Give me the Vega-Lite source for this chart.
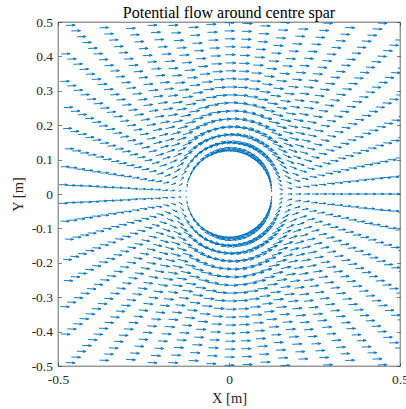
{
"$schema":"https://vega.github.io/schema/vega-lite/v6.json",
"width":342,"height":344,
"autosize":"none",
"padding":{"left":58,"top":22,"right":6,"bottom":43},
"background":"white",
"config":{"view":{"stroke":"#262626","strokeWidth":0.7},"font":"Liberation Serif"},
"title":{"text":"Potential flow around centre spar","font":"Liberation Serif","fontSize":16,"fontWeight":"normal","color":"#000000","anchor":"middle","baseline":"alphabetic","offset":4.5,"dy":23},
"resolve":{"axis":{"x":"independent","y":"independent"}},
"layer":[
{"data":{"values":[
{"x":0.125,"y":0,"a":0,"s":0},{"x":0.148,"y":0,"a":0,"s":0.29},{"x":0.172,"y":0,"a":0,"s":0.47},{"x":0.195,"y":0,"a":0,"s":0.59},{"x":0.218,"y":0,"a":0,"s":0.67},{"x":0.242,"y":0,"a":0,"s":0.73},{"x":0.265,"y":0,"a":0,"s":0.78},{"x":0.288,"y":0,"a":0,"s":0.81},{"x":0.311,"y":0,"a":0,"s":0.84},{"x":0.335,"y":0,"a":0,"s":0.86},{"x":0.358,"y":0,"a":0,"s":0.88},{"x":0.381,"y":0,"a":0,"s":0.89},{"x":0.405,"y":0,"a":0,"s":0.9},{"x":0.428,"y":0,"a":0,"s":0.91},{"x":0.451,"y":0,"a":0,"s":0.92},{"x":0.475,"y":0,"a":0,"s":0.93},{"x":0.498,"y":0,"a":0,"s":0.94},
{"x":0.124,"y":0.013,"a":-84,"s":0.21},{"x":0.148,"y":0.016,"a":-26,"s":0.34},{"x":0.171,"y":0.018,"a":-13,"s":0.49},{"x":0.194,"y":0.021,"a":-8,"s":0.6},{"x":0.217,"y":0.023,"a":-6,"s":0.68},{"x":0.24,"y":0.026,"a":-4,"s":0.74},{"x":0.263,"y":0.028,"a":-3,"s":0.78},{"x":0.287,"y":0.031,"a":-3,"s":0.82},{"x":0.31,"y":0.033,"a":-2,"s":0.84},{"x":0.333,"y":0.036,"a":-2,"s":0.86},{"x":0.356,"y":0.038,"a":-2,"s":0.88},{"x":0.379,"y":0.041,"a":-1,"s":0.9},{"x":0.402,"y":0.043,"a":-1,"s":0.91},{"x":0.426,"y":0.046,"a":-1,"s":0.92},{"x":0.449,"y":0.048,"a":-1,"s":0.93},{"x":0.472,"y":0.05,"a":-1,"s":0.93},{"x":0.495,"y":0.053,"a":-1,"s":0.94},
{"x":0.124,"y":-0.013,"a":84,"s":0.21},{"x":0.148,"y":-0.016,"a":26,"s":0.34},{"x":0.171,"y":-0.018,"a":13,"s":0.49},{"x":0.194,"y":-0.021,"a":8,"s":0.6},{"x":0.217,"y":-0.023,"a":6,"s":0.68},{"x":0.24,"y":-0.026,"a":4,"s":0.74},{"x":0.263,"y":-0.028,"a":3,"s":0.78},{"x":0.287,"y":-0.031,"a":3,"s":0.82},{"x":0.31,"y":-0.033,"a":2,"s":0.84},{"x":0.333,"y":-0.036,"a":2,"s":0.86},{"x":0.356,"y":-0.038,"a":2,"s":0.88},{"x":0.379,"y":-0.041,"a":1,"s":0.9},{"x":0.402,"y":-0.043,"a":1,"s":0.91},{"x":0.426,"y":-0.046,"a":1,"s":0.92},{"x":0.449,"y":-0.048,"a":1,"s":0.93},{"x":0.472,"y":-0.05,"a":1,"s":0.93},{"x":0.495,"y":-0.053,"a":1,"s":0.94},
{"x":0.122,"y":0.026,"a":-78,"s":0.42},{"x":0.145,"y":0.031,"a":-40,"s":0.46},{"x":0.168,"y":0.036,"a":-23,"s":0.56},{"x":0.191,"y":0.041,"a":-15,"s":0.65},{"x":0.213,"y":0.046,"a":-11,"s":0.71},{"x":0.236,"y":0.051,"a":-8,"s":0.76},{"x":0.259,"y":0.056,"a":-7,"s":0.8},{"x":0.282,"y":0.061,"a":-5,"s":0.83},{"x":0.304,"y":0.066,"a":-5,"s":0.86},{"x":0.327,"y":0.071,"a":-4,"s":0.88},{"x":0.35,"y":0.076,"a":-3,"s":0.89},{"x":0.373,"y":0.081,"a":-3,"s":0.9},{"x":0.396,"y":0.086,"a":-2,"s":0.91},{"x":0.418,"y":0.09,"a":-2,"s":0.92},{"x":0.441,"y":0.095,"a":-2,"s":0.93},{"x":0.464,"y":0.1,"a":-2,"s":0.94},{"x":0.487,"y":0.105,"a":-2,"s":0.94},
{"x":0.122,"y":-0.026,"a":78,"s":0.42},{"x":0.145,"y":-0.031,"a":40,"s":0.46},{"x":0.168,"y":-0.036,"a":23,"s":0.56},{"x":0.191,"y":-0.041,"a":15,"s":0.65},{"x":0.213,"y":-0.046,"a":11,"s":0.71},{"x":0.236,"y":-0.051,"a":8,"s":0.76},{"x":0.259,"y":-0.056,"a":7,"s":0.8},{"x":0.282,"y":-0.061,"a":5,"s":0.83},{"x":0.304,"y":-0.066,"a":5,"s":0.86},{"x":0.327,"y":-0.071,"a":4,"s":0.88},{"x":0.35,"y":-0.076,"a":3,"s":0.89},{"x":0.373,"y":-0.081,"a":3,"s":0.9},{"x":0.396,"y":-0.086,"a":2,"s":0.91},{"x":0.418,"y":-0.09,"a":2,"s":0.92},{"x":0.441,"y":-0.095,"a":2,"s":0.93},{"x":0.464,"y":-0.1,"a":2,"s":0.94},{"x":0.487,"y":-0.105,"a":2,"s":0.94},
{"x":0.119,"y":0.039,"a":-72,"s":0.63},{"x":0.141,"y":0.047,"a":-45,"s":0.6},{"x":0.163,"y":0.054,"a":-29,"s":0.66},{"x":0.185,"y":0.061,"a":-20,"s":0.71},{"x":0.207,"y":0.069,"a":-15,"s":0.76},{"x":0.229,"y":0.076,"a":-12,"s":0.8},{"x":0.251,"y":0.083,"a":-9,"s":0.83},{"x":0.274,"y":0.091,"a":-8,"s":0.86},{"x":0.296,"y":0.098,"a":-6,"s":0.88},{"x":0.318,"y":0.105,"a":-5,"s":0.89},{"x":0.34,"y":0.112,"a":-5,"s":0.91},{"x":0.362,"y":0.12,"a":-4,"s":0.92},{"x":0.384,"y":0.127,"a":-4,"s":0.93},{"x":0.406,"y":0.134,"a":-3,"s":0.93},{"x":0.428,"y":0.142,"a":-3,"s":0.94},{"x":0.451,"y":0.149,"a":-3,"s":0.95},{"x":0.473,"y":0.156,"a":-2,"s":0.95},{"x":0.495,"y":0.164,"a":-2,"s":0.96},
{"x":0.119,"y":-0.039,"a":72,"s":0.63},{"x":0.141,"y":-0.047,"a":45,"s":0.6},{"x":0.163,"y":-0.054,"a":29,"s":0.66},{"x":0.185,"y":-0.061,"a":20,"s":0.71},{"x":0.207,"y":-0.069,"a":15,"s":0.76},{"x":0.229,"y":-0.076,"a":12,"s":0.8},{"x":0.251,"y":-0.083,"a":9,"s":0.83},{"x":0.274,"y":-0.091,"a":8,"s":0.86},{"x":0.296,"y":-0.098,"a":6,"s":0.88},{"x":0.318,"y":-0.105,"a":5,"s":0.89},{"x":0.34,"y":-0.112,"a":5,"s":0.91},{"x":0.362,"y":-0.12,"a":4,"s":0.92},{"x":0.384,"y":-0.127,"a":4,"s":0.93},{"x":0.406,"y":-0.134,"a":3,"s":0.93},{"x":0.428,"y":-0.142,"a":3,"s":0.94},{"x":0.451,"y":-0.149,"a":3,"s":0.95},{"x":0.473,"y":-0.156,"a":2,"s":0.95},{"x":0.495,"y":-0.164,"a":2,"s":0.96},
{"x":0.114,"y":0.052,"a":-66,"s":0.83},{"x":0.135,"y":0.061,"a":-45,"s":0.75},{"x":0.156,"y":0.071,"a":-32,"s":0.76},{"x":0.178,"y":0.081,"a":-23,"s":0.79},{"x":0.199,"y":0.09,"a":-18,"s":0.82},{"x":0.22,"y":0.1,"a":-14,"s":0.85},{"x":0.241,"y":0.109,"a":-11,"s":0.87},{"x":0.262,"y":0.119,"a":-9,"s":0.89},{"x":0.284,"y":0.129,"a":-8,"s":0.9},{"x":0.305,"y":0.138,"a":-7,"s":0.91},{"x":0.326,"y":0.148,"a":-6,"s":0.92},{"x":0.347,"y":0.158,"a":-5,"s":0.93},{"x":0.368,"y":0.167,"a":-4,"s":0.94},{"x":0.39,"y":0.177,"a":-4,"s":0.95},{"x":0.411,"y":0.186,"a":-3,"s":0.95},{"x":0.432,"y":0.196,"a":-3,"s":0.96},{"x":0.453,"y":0.206,"a":-3,"s":0.96},{"x":0.475,"y":0.215,"a":-3,"s":0.96},{"x":0.496,"y":0.225,"a":-2,"s":0.97},
{"x":0.114,"y":-0.052,"a":66,"s":0.83},{"x":0.135,"y":-0.061,"a":45,"s":0.75},{"x":0.156,"y":-0.071,"a":32,"s":0.76},{"x":0.178,"y":-0.081,"a":23,"s":0.79},{"x":0.199,"y":-0.09,"a":18,"s":0.82},{"x":0.22,"y":-0.1,"a":14,"s":0.85},{"x":0.241,"y":-0.109,"a":11,"s":0.87},{"x":0.262,"y":-0.119,"a":9,"s":0.89},{"x":0.284,"y":-0.129,"a":8,"s":0.9},{"x":0.305,"y":-0.138,"a":7,"s":0.91},{"x":0.326,"y":-0.148,"a":6,"s":0.92},{"x":0.347,"y":-0.158,"a":5,"s":0.93},{"x":0.368,"y":-0.167,"a":4,"s":0.94},{"x":0.39,"y":-0.177,"a":4,"s":0.95},{"x":0.411,"y":-0.186,"a":3,"s":0.95},{"x":0.432,"y":-0.196,"a":3,"s":0.96},{"x":0.453,"y":-0.206,"a":3,"s":0.96},{"x":0.475,"y":-0.215,"a":3,"s":0.96},{"x":0.496,"y":-0.225,"a":2,"s":0.97},
{"x":0.108,"y":0.063,"a":-60,"s":1.02},{"x":0.128,"y":0.075,"a":-44,"s":0.9},{"x":0.148,"y":0.087,"a":-32,"s":0.88},{"x":0.168,"y":0.099,"a":-24,"s":0.88},{"x":0.188,"y":0.111,"a":-19,"s":0.89},{"x":0.208,"y":0.123,"a":-15,"s":0.9},{"x":0.228,"y":0.134,"a":-12,"s":0.91},{"x":0.248,"y":0.146,"a":-10,"s":0.92},{"x":0.268,"y":0.158,"a":-9,"s":0.93},{"x":0.288,"y":0.17,"a":-8,"s":0.94},{"x":0.309,"y":0.182,"a":-6,"s":0.95},{"x":0.329,"y":0.194,"a":-6,"s":0.95},{"x":0.349,"y":0.205,"a":-5,"s":0.96},{"x":0.369,"y":0.217,"a":-4,"s":0.96},{"x":0.389,"y":0.229,"a":-4,"s":0.97},{"x":0.409,"y":0.241,"a":-4,"s":0.97},{"x":0.429,"y":0.253,"a":-3,"s":0.97},{"x":0.449,"y":0.265,"a":-3,"s":0.97},{"x":0.469,"y":0.276,"a":-3,"s":0.98},{"x":0.489,"y":0.288,"a":-2,"s":0.98},
{"x":0.108,"y":-0.063,"a":60,"s":1.02},{"x":0.128,"y":-0.075,"a":44,"s":0.9},{"x":0.148,"y":-0.087,"a":32,"s":0.88},{"x":0.168,"y":-0.099,"a":24,"s":0.88},{"x":0.188,"y":-0.111,"a":19,"s":0.89},{"x":0.208,"y":-0.123,"a":15,"s":0.9},{"x":0.228,"y":-0.134,"a":12,"s":0.91},{"x":0.248,"y":-0.146,"a":10,"s":0.92},{"x":0.268,"y":-0.158,"a":9,"s":0.93},{"x":0.288,"y":-0.17,"a":8,"s":0.94},{"x":0.309,"y":-0.182,"a":6,"s":0.95},{"x":0.329,"y":-0.194,"a":6,"s":0.95},{"x":0.349,"y":-0.205,"a":5,"s":0.96},{"x":0.369,"y":-0.217,"a":4,"s":0.96},{"x":0.389,"y":-0.229,"a":4,"s":0.97},{"x":0.409,"y":-0.241,"a":4,"s":0.97},{"x":0.429,"y":-0.253,"a":3,"s":0.97},{"x":0.449,"y":-0.265,"a":3,"s":0.97},{"x":0.469,"y":-0.276,"a":3,"s":0.98},{"x":0.489,"y":-0.288,"a":2,"s":0.98},
{"x":0.1,"y":0.075,"a":-53,"s":1.19},{"x":0.119,"y":0.088,"a":-41,"s":1.05},{"x":0.138,"y":0.102,"a":-31,"s":0.99},{"x":0.157,"y":0.116,"a":-24,"s":0.97},{"x":0.175,"y":0.13,"a":-19,"s":0.96},{"x":0.194,"y":0.144,"a":-16,"s":0.96},{"x":0.213,"y":0.158,"a":-13,"s":0.96},{"x":0.231,"y":0.172,"a":-11,"s":0.96},{"x":0.25,"y":0.186,"a":-9,"s":0.97},{"x":0.269,"y":0.2,"a":-8,"s":0.97},{"x":0.287,"y":0.214,"a":-7,"s":0.97},{"x":0.306,"y":0.227,"a":-6,"s":0.97},{"x":0.325,"y":0.241,"a":-5,"s":0.98},{"x":0.344,"y":0.255,"a":-5,"s":0.98},{"x":0.362,"y":0.269,"a":-4,"s":0.98},{"x":0.381,"y":0.283,"a":-4,"s":0.98},{"x":0.4,"y":0.297,"a":-4,"s":0.98},{"x":0.418,"y":0.311,"a":-3,"s":0.99},{"x":0.437,"y":0.325,"a":-3,"s":0.99},{"x":0.456,"y":0.339,"a":-3,"s":0.99},{"x":0.474,"y":0.353,"a":-2,"s":0.99},{"x":0.493,"y":0.366,"a":-2,"s":0.99},
{"x":0.1,"y":-0.075,"a":53,"s":1.19},{"x":0.119,"y":-0.088,"a":41,"s":1.05},{"x":0.138,"y":-0.102,"a":31,"s":0.99},{"x":0.157,"y":-0.116,"a":24,"s":0.97},{"x":0.175,"y":-0.13,"a":19,"s":0.96},{"x":0.194,"y":-0.144,"a":16,"s":0.96},{"x":0.213,"y":-0.158,"a":13,"s":0.96},{"x":0.231,"y":-0.172,"a":11,"s":0.96},{"x":0.25,"y":-0.186,"a":9,"s":0.97},{"x":0.269,"y":-0.2,"a":8,"s":0.97},{"x":0.287,"y":-0.214,"a":7,"s":0.97},{"x":0.306,"y":-0.227,"a":6,"s":0.97},{"x":0.325,"y":-0.241,"a":5,"s":0.98},{"x":0.344,"y":-0.255,"a":5,"s":0.98},{"x":0.362,"y":-0.269,"a":4,"s":0.98},{"x":0.381,"y":-0.283,"a":4,"s":0.98},{"x":0.4,"y":-0.297,"a":4,"s":0.98},{"x":0.418,"y":-0.311,"a":3,"s":0.99},{"x":0.437,"y":-0.325,"a":3,"s":0.99},{"x":0.456,"y":-0.339,"a":3,"s":0.99},{"x":0.474,"y":-0.353,"a":2,"s":0.99},{"x":0.493,"y":-0.366,"a":2,"s":0.99},
{"x":0.092,"y":0.085,"a":-47,"s":1.36},{"x":0.109,"y":0.101,"a":-37,"s":1.18},{"x":0.126,"y":0.116,"a":-29,"s":1.09},{"x":0.143,"y":0.132,"a":-23,"s":1.05},{"x":0.16,"y":0.148,"a":-19,"s":1.03},{"x":0.178,"y":0.164,"a":-15,"s":1.01},{"x":0.195,"y":0.18,"a":-13,"s":1.01},{"x":0.212,"y":0.195,"a":-11,"s":1},{"x":0.229,"y":0.211,"a":-9,"s":1},{"x":0.246,"y":0.227,"a":-8,"s":1},{"x":0.263,"y":0.243,"a":-7,"s":1},{"x":0.28,"y":0.259,"a":-6,"s":1},{"x":0.297,"y":0.274,"a":-5,"s":1},{"x":0.314,"y":0.29,"a":-5,"s":1},{"x":0.332,"y":0.306,"a":-4,"s":1},{"x":0.349,"y":0.322,"a":-4,"s":1},{"x":0.366,"y":0.338,"a":-4,"s":1},{"x":0.383,"y":0.354,"a":-3,"s":1},{"x":0.4,"y":0.369,"a":-3,"s":1},{"x":0.417,"y":0.385,"a":-3,"s":1},{"x":0.434,"y":0.401,"a":-3,"s":1},{"x":0.451,"y":0.417,"a":-2,"s":1},{"x":0.469,"y":0.433,"a":-2,"s":1},{"x":0.486,"y":0.448,"a":-2,"s":1},
{"x":0.092,"y":-0.085,"a":47,"s":1.36},{"x":0.109,"y":-0.101,"a":37,"s":1.18},{"x":0.126,"y":-0.116,"a":29,"s":1.09},{"x":0.143,"y":-0.132,"a":23,"s":1.05},{"x":0.16,"y":-0.148,"a":19,"s":1.03},{"x":0.178,"y":-0.164,"a":15,"s":1.01},{"x":0.195,"y":-0.18,"a":13,"s":1.01},{"x":0.212,"y":-0.195,"a":11,"s":1},{"x":0.229,"y":-0.211,"a":9,"s":1},{"x":0.246,"y":-0.227,"a":8,"s":1},{"x":0.263,"y":-0.243,"a":7,"s":1},{"x":0.28,"y":-0.259,"a":6,"s":1},{"x":0.297,"y":-0.274,"a":5,"s":1},{"x":0.314,"y":-0.29,"a":5,"s":1},{"x":0.332,"y":-0.306,"a":4,"s":1},{"x":0.349,"y":-0.322,"a":4,"s":1},{"x":0.366,"y":-0.338,"a":4,"s":1},{"x":0.383,"y":-0.354,"a":3,"s":1},{"x":0.4,"y":-0.369,"a":3,"s":1},{"x":0.417,"y":-0.385,"a":3,"s":1},{"x":0.434,"y":-0.401,"a":3,"s":1},{"x":0.451,"y":-0.417,"a":2,"s":1},{"x":0.469,"y":-0.433,"a":2,"s":1},{"x":0.486,"y":-0.448,"a":2,"s":1},
{"x":0.082,"y":0.094,"a":-41,"s":1.51},{"x":0.098,"y":0.112,"a":-33,"s":1.3},{"x":0.113,"y":0.129,"a":-26,"s":1.19},{"x":0.128,"y":0.147,"a":-21,"s":1.13},{"x":0.144,"y":0.164,"a":-17,"s":1.09},{"x":0.159,"y":0.182,"a":-14,"s":1.07},{"x":0.174,"y":0.199,"a":-12,"s":1.05},{"x":0.19,"y":0.217,"a":-10,"s":1.04},{"x":0.205,"y":0.234,"a":-9,"s":1.03},{"x":0.22,"y":0.252,"a":-8,"s":1.03},{"x":0.236,"y":0.269,"a":-7,"s":1.02},{"x":0.251,"y":0.287,"a":-6,"s":1.02},{"x":0.266,"y":0.305,"a":-5,"s":1.02},{"x":0.282,"y":0.322,"a":-5,"s":1.02},{"x":0.297,"y":0.34,"a":-4,"s":1.01},{"x":0.313,"y":0.357,"a":-4,"s":1.01},{"x":0.328,"y":0.375,"a":-4,"s":1.01},{"x":0.343,"y":0.392,"a":-3,"s":1.01},{"x":0.359,"y":0.41,"a":-3,"s":1.01},{"x":0.374,"y":0.427,"a":-3,"s":1.01},{"x":0.389,"y":0.445,"a":-3,"s":1.01},{"x":0.405,"y":0.462,"a":-2,"s":1.01},{"x":0.42,"y":0.48,"a":-2,"s":1.01},{"x":0.435,"y":0.497,"a":-2,"s":1},
{"x":0.082,"y":-0.094,"a":41,"s":1.51},{"x":0.098,"y":-0.112,"a":33,"s":1.3},{"x":0.113,"y":-0.129,"a":26,"s":1.19},{"x":0.128,"y":-0.147,"a":21,"s":1.13},{"x":0.144,"y":-0.164,"a":17,"s":1.09},{"x":0.159,"y":-0.182,"a":14,"s":1.07},{"x":0.174,"y":-0.199,"a":12,"s":1.05},{"x":0.19,"y":-0.217,"a":10,"s":1.04},{"x":0.205,"y":-0.234,"a":9,"s":1.03},{"x":0.22,"y":-0.252,"a":8,"s":1.03},{"x":0.236,"y":-0.269,"a":7,"s":1.02},{"x":0.251,"y":-0.287,"a":6,"s":1.02},{"x":0.266,"y":-0.305,"a":5,"s":1.02},{"x":0.282,"y":-0.322,"a":5,"s":1.02},{"x":0.297,"y":-0.34,"a":4,"s":1.01},{"x":0.313,"y":-0.357,"a":4,"s":1.01},{"x":0.328,"y":-0.375,"a":4,"s":1.01},{"x":0.343,"y":-0.392,"a":3,"s":1.01},{"x":0.359,"y":-0.41,"a":3,"s":1.01},{"x":0.374,"y":-0.427,"a":3,"s":1.01},{"x":0.389,"y":-0.445,"a":3,"s":1.01},{"x":0.405,"y":-0.462,"a":2,"s":1.01},{"x":0.42,"y":-0.48,"a":2,"s":1.01},{"x":0.435,"y":-0.497,"a":2,"s":1},
{"x":0.072,"y":0.102,"a":-35,"s":1.64},{"x":0.085,"y":0.121,"a":-28,"s":1.41},{"x":0.099,"y":0.14,"a":-23,"s":1.28},{"x":0.112,"y":0.16,"a":-19,"s":1.2},{"x":0.125,"y":0.179,"a":-16,"s":1.15},{"x":0.139,"y":0.198,"a":-13,"s":1.12},{"x":0.152,"y":0.217,"a":-11,"s":1.1},{"x":0.166,"y":0.236,"a":-9,"s":1.08},{"x":0.179,"y":0.255,"a":-8,"s":1.07},{"x":0.192,"y":0.274,"a":-7,"s":1.06},{"x":0.206,"y":0.293,"a":-6,"s":1.05},{"x":0.219,"y":0.312,"a":-6,"s":1.04},{"x":0.233,"y":0.331,"a":-5,"s":1.04},{"x":0.246,"y":0.35,"a":-4,"s":1.03},{"x":0.259,"y":0.369,"a":-4,"s":1.03},{"x":0.273,"y":0.388,"a":-4,"s":1.03},{"x":0.286,"y":0.407,"a":-3,"s":1.02},{"x":0.3,"y":0.426,"a":-3,"s":1.02},{"x":0.313,"y":0.446,"a":-3,"s":1.02},{"x":0.326,"y":0.465,"a":-3,"s":1.02},{"x":0.34,"y":0.484,"a":-2,"s":1.02},
{"x":0.072,"y":-0.102,"a":35,"s":1.64},{"x":0.085,"y":-0.121,"a":28,"s":1.41},{"x":0.099,"y":-0.14,"a":23,"s":1.28},{"x":0.112,"y":-0.16,"a":19,"s":1.2},{"x":0.125,"y":-0.179,"a":16,"s":1.15},{"x":0.139,"y":-0.198,"a":13,"s":1.12},{"x":0.152,"y":-0.217,"a":11,"s":1.1},{"x":0.166,"y":-0.236,"a":9,"s":1.08},{"x":0.179,"y":-0.255,"a":8,"s":1.07},{"x":0.192,"y":-0.274,"a":7,"s":1.06},{"x":0.206,"y":-0.293,"a":6,"s":1.05},{"x":0.219,"y":-0.312,"a":6,"s":1.04},{"x":0.233,"y":-0.331,"a":5,"s":1.04},{"x":0.246,"y":-0.35,"a":4,"s":1.03},{"x":0.259,"y":-0.369,"a":4,"s":1.03},{"x":0.273,"y":-0.388,"a":4,"s":1.03},{"x":0.286,"y":-0.407,"a":3,"s":1.02},{"x":0.3,"y":-0.426,"a":3,"s":1.02},{"x":0.313,"y":-0.446,"a":3,"s":1.02},{"x":0.326,"y":-0.465,"a":3,"s":1.02},{"x":0.34,"y":-0.484,"a":2,"s":1.02},
{"x":0.061,"y":0.109,"a":-29,"s":1.75},{"x":0.072,"y":0.13,"a":-24,"s":1.5},{"x":0.083,"y":0.15,"a":-19,"s":1.36},{"x":0.094,"y":0.171,"a":-16,"s":1.27},{"x":0.106,"y":0.191,"a":-13,"s":1.21},{"x":0.117,"y":0.211,"a":-11,"s":1.16},{"x":0.128,"y":0.232,"a":-10,"s":1.13},{"x":0.14,"y":0.252,"a":-8,"s":1.11},{"x":0.151,"y":0.272,"a":-7,"s":1.09},{"x":0.162,"y":0.293,"a":-6,"s":1.08},{"x":0.174,"y":0.313,"a":-6,"s":1.07},{"x":0.185,"y":0.334,"a":-5,"s":1.06},{"x":0.196,"y":0.354,"a":-4,"s":1.05},{"x":0.207,"y":0.374,"a":-4,"s":1.05},{"x":0.219,"y":0.395,"a":-4,"s":1.04},{"x":0.23,"y":0.415,"a":-3,"s":1.04},{"x":0.241,"y":0.436,"a":-3,"s":1.04},{"x":0.253,"y":0.456,"a":-3,"s":1.03},{"x":0.264,"y":0.476,"a":-2,"s":1.03},{"x":0.275,"y":0.497,"a":-2,"s":1.03},
{"x":0.061,"y":-0.109,"a":29,"s":1.75},{"x":0.072,"y":-0.13,"a":24,"s":1.5},{"x":0.083,"y":-0.15,"a":19,"s":1.36},{"x":0.094,"y":-0.171,"a":16,"s":1.27},{"x":0.106,"y":-0.191,"a":13,"s":1.21},{"x":0.117,"y":-0.211,"a":11,"s":1.16},{"x":0.128,"y":-0.232,"a":10,"s":1.13},{"x":0.14,"y":-0.252,"a":8,"s":1.11},{"x":0.151,"y":-0.272,"a":7,"s":1.09},{"x":0.162,"y":-0.293,"a":6,"s":1.08},{"x":0.174,"y":-0.313,"a":6,"s":1.07},{"x":0.185,"y":-0.334,"a":5,"s":1.06},{"x":0.196,"y":-0.354,"a":4,"s":1.05},{"x":0.207,"y":-0.374,"a":4,"s":1.05},{"x":0.219,"y":-0.395,"a":4,"s":1.04},{"x":0.23,"y":-0.415,"a":3,"s":1.04},{"x":0.241,"y":-0.436,"a":3,"s":1.04},{"x":0.253,"y":-0.456,"a":3,"s":1.03},{"x":0.264,"y":-0.476,"a":2,"s":1.03},{"x":0.275,"y":-0.497,"a":2,"s":1.03},
{"x":0.049,"y":0.115,"a":-23,"s":1.84},{"x":0.058,"y":0.137,"a":-19,"s":1.58},{"x":0.067,"y":0.158,"a":-16,"s":1.42},{"x":0.076,"y":0.18,"a":-13,"s":1.32},{"x":0.085,"y":0.201,"a":-11,"s":1.25},{"x":0.094,"y":0.223,"a":-9,"s":1.2},{"x":0.103,"y":0.244,"a":-8,"s":1.17},{"x":0.112,"y":0.265,"a":-7,"s":1.14},{"x":0.121,"y":0.287,"a":-6,"s":1.12},{"x":0.13,"y":0.308,"a":-5,"s":1.1},{"x":0.139,"y":0.33,"a":-5,"s":1.09},{"x":0.148,"y":0.351,"a":-4,"s":1.08},{"x":0.157,"y":0.373,"a":-4,"s":1.07},{"x":0.166,"y":0.394,"a":-3,"s":1.06},{"x":0.175,"y":0.416,"a":-3,"s":1.06},{"x":0.185,"y":0.437,"a":-3,"s":1.05},{"x":0.194,"y":0.459,"a":-2,"s":1.05},{"x":0.203,"y":0.48,"a":-2,"s":1.04},
{"x":0.049,"y":-0.115,"a":23,"s":1.84},{"x":0.058,"y":-0.137,"a":19,"s":1.58},{"x":0.067,"y":-0.158,"a":16,"s":1.42},{"x":0.076,"y":-0.18,"a":13,"s":1.32},{"x":0.085,"y":-0.201,"a":11,"s":1.25},{"x":0.094,"y":-0.223,"a":9,"s":1.2},{"x":0.103,"y":-0.244,"a":8,"s":1.17},{"x":0.112,"y":-0.265,"a":7,"s":1.14},{"x":0.121,"y":-0.287,"a":6,"s":1.12},{"x":0.13,"y":-0.308,"a":5,"s":1.1},{"x":0.139,"y":-0.33,"a":5,"s":1.09},{"x":0.148,"y":-0.351,"a":4,"s":1.08},{"x":0.157,"y":-0.373,"a":4,"s":1.07},{"x":0.166,"y":-0.394,"a":3,"s":1.06},{"x":0.175,"y":-0.416,"a":3,"s":1.06},{"x":0.185,"y":-0.437,"a":3,"s":1.05},{"x":0.194,"y":-0.459,"a":2,"s":1.05},{"x":0.203,"y":-0.48,"a":2,"s":1.04},
{"x":0.036,"y":0.12,"a":-17,"s":1.92},{"x":0.043,"y":0.142,"a":-14,"s":1.64},{"x":0.05,"y":0.164,"a":-12,"s":1.47},{"x":0.056,"y":0.187,"a":-10,"s":1.36},{"x":0.063,"y":0.209,"a":-8,"s":1.29},{"x":0.07,"y":0.231,"a":-7,"s":1.23},{"x":0.076,"y":0.254,"a":-6,"s":1.19},{"x":0.083,"y":0.276,"a":-5,"s":1.16},{"x":0.09,"y":0.298,"a":-5,"s":1.14},{"x":0.097,"y":0.32,"a":-4,"s":1.12},{"x":0.103,"y":0.343,"a":-4,"s":1.1},{"x":0.11,"y":0.365,"a":-3,"s":1.09},{"x":0.117,"y":0.387,"a":-3,"s":1.08},{"x":0.124,"y":0.41,"a":-3,"s":1.07},{"x":0.13,"y":0.432,"a":-2,"s":1.07},{"x":0.137,"y":0.454,"a":-2,"s":1.06},{"x":0.144,"y":0.477,"a":-2,"s":1.05},{"x":0.15,"y":0.499,"a":-2,"s":1.05},
{"x":0.036,"y":-0.12,"a":17,"s":1.92},{"x":0.043,"y":-0.142,"a":14,"s":1.64},{"x":0.05,"y":-0.164,"a":12,"s":1.47},{"x":0.056,"y":-0.187,"a":10,"s":1.36},{"x":0.063,"y":-0.209,"a":8,"s":1.29},{"x":0.07,"y":-0.231,"a":7,"s":1.23},{"x":0.076,"y":-0.254,"a":6,"s":1.19},{"x":0.083,"y":-0.276,"a":5,"s":1.16},{"x":0.09,"y":-0.298,"a":5,"s":1.14},{"x":0.097,"y":-0.32,"a":4,"s":1.12},{"x":0.103,"y":-0.343,"a":4,"s":1.1},{"x":0.11,"y":-0.365,"a":3,"s":1.09},{"x":0.117,"y":-0.387,"a":3,"s":1.08},{"x":0.124,"y":-0.41,"a":3,"s":1.07},{"x":0.13,"y":-0.432,"a":2,"s":1.07},{"x":0.137,"y":-0.454,"a":2,"s":1.06},{"x":0.144,"y":-0.477,"a":2,"s":1.05},{"x":0.15,"y":-0.499,"a":2,"s":1.05},
{"x":0.023,"y":0.123,"a":-11,"s":1.97},{"x":0.028,"y":0.146,"a":-9,"s":1.68},{"x":0.032,"y":0.169,"a":-7,"s":1.51},{"x":0.036,"y":0.192,"a":-6,"s":1.39},{"x":0.04,"y":0.214,"a":-5,"s":1.31},{"x":0.045,"y":0.237,"a":-5,"s":1.25},{"x":0.049,"y":0.26,"a":-4,"s":1.21},{"x":0.053,"y":0.283,"a":-3,"s":1.18},{"x":0.058,"y":0.306,"a":-3,"s":1.15},{"x":0.062,"y":0.329,"a":-3,"s":1.13},{"x":0.066,"y":0.352,"a":-2,"s":1.11},{"x":0.071,"y":0.375,"a":-2,"s":1.1},{"x":0.075,"y":0.398,"a":-2,"s":1.09},{"x":0.079,"y":0.421,"a":-2,"s":1.08},{"x":0.084,"y":0.443,"a":-2,"s":1.07},{"x":0.088,"y":0.466,"a":-1,"s":1.07},{"x":0.092,"y":0.489,"a":-1,"s":1.06},
{"x":0.023,"y":-0.123,"a":11,"s":1.97},{"x":0.028,"y":-0.146,"a":9,"s":1.68},{"x":0.032,"y":-0.169,"a":7,"s":1.51},{"x":0.036,"y":-0.192,"a":6,"s":1.39},{"x":0.04,"y":-0.214,"a":5,"s":1.31},{"x":0.045,"y":-0.237,"a":5,"s":1.25},{"x":0.049,"y":-0.26,"a":4,"s":1.21},{"x":0.053,"y":-0.283,"a":3,"s":1.18},{"x":0.058,"y":-0.306,"a":3,"s":1.15},{"x":0.062,"y":-0.329,"a":3,"s":1.13},{"x":0.066,"y":-0.352,"a":2,"s":1.11},{"x":0.071,"y":-0.375,"a":2,"s":1.1},{"x":0.075,"y":-0.398,"a":2,"s":1.09},{"x":0.079,"y":-0.421,"a":2,"s":1.08},{"x":0.084,"y":-0.443,"a":2,"s":1.07},{"x":0.088,"y":-0.466,"a":1,"s":1.07},{"x":0.092,"y":-0.489,"a":1,"s":1.06},
{"x":0.01,"y":0.125,"a":-5,"s":1.99},{"x":0.012,"y":0.148,"a":-4,"s":1.71},{"x":0.014,"y":0.171,"a":-3,"s":1.53},{"x":0.016,"y":0.194,"a":-3,"s":1.41},{"x":0.017,"y":0.218,"a":-2,"s":1.33},{"x":0.019,"y":0.241,"a":-2,"s":1.27},{"x":0.021,"y":0.264,"a":-2,"s":1.22},{"x":0.023,"y":0.287,"a":-1,"s":1.19},{"x":0.025,"y":0.31,"a":-1,"s":1.16},{"x":0.027,"y":0.334,"a":-1,"s":1.14},{"x":0.029,"y":0.357,"a":-1,"s":1.12},{"x":0.03,"y":0.38,"a":-1,"s":1.11},{"x":0.032,"y":0.403,"a":-1,"s":1.09},{"x":0.034,"y":0.427,"a":-1,"s":1.08},{"x":0.036,"y":0.45,"a":-1,"s":1.08},{"x":0.038,"y":0.473,"a":-1,"s":1.07},{"x":0.04,"y":0.496,"a":-1,"s":1.06},
{"x":0.01,"y":-0.125,"a":5,"s":1.99},{"x":0.012,"y":-0.148,"a":4,"s":1.71},{"x":0.014,"y":-0.171,"a":3,"s":1.53},{"x":0.016,"y":-0.194,"a":3,"s":1.41},{"x":0.017,"y":-0.218,"a":2,"s":1.33},{"x":0.019,"y":-0.241,"a":2,"s":1.27},{"x":0.021,"y":-0.264,"a":2,"s":1.22},{"x":0.023,"y":-0.287,"a":1,"s":1.19},{"x":0.025,"y":-0.31,"a":1,"s":1.16},{"x":0.027,"y":-0.334,"a":1,"s":1.14},{"x":0.029,"y":-0.357,"a":1,"s":1.12},{"x":0.03,"y":-0.38,"a":1,"s":1.11},{"x":0.032,"y":-0.403,"a":1,"s":1.09},{"x":0.034,"y":-0.427,"a":1,"s":1.08},{"x":0.036,"y":-0.45,"a":1,"s":1.08},{"x":0.038,"y":-0.473,"a":1,"s":1.07},{"x":0.04,"y":-0.496,"a":1,"s":1.06},
{"x":-0.003,"y":0.125,"a":2,"s":2},{"x":-0.004,"y":0.148,"a":1,"s":1.71},{"x":-0.005,"y":0.172,"a":1,"s":1.53},{"x":-0.005,"y":0.195,"a":1,"s":1.41},{"x":-0.006,"y":0.218,"a":1,"s":1.33},{"x":-0.006,"y":0.241,"a":1,"s":1.27},{"x":-0.007,"y":0.265,"a":1,"s":1.22},{"x":-0.008,"y":0.288,"a":0,"s":1.19},{"x":-0.008,"y":0.311,"a":0,"s":1.16},{"x":-0.009,"y":0.335,"a":0,"s":1.14},{"x":-0.01,"y":0.358,"a":0,"s":1.12},{"x":-0.01,"y":0.381,"a":0,"s":1.11},{"x":-0.011,"y":0.405,"a":0,"s":1.1},{"x":-0.011,"y":0.428,"a":0,"s":1.09},{"x":-0.012,"y":0.451,"a":0,"s":1.08},{"x":-0.013,"y":0.474,"a":0,"s":1.07},{"x":-0.013,"y":0.498,"a":0,"s":1.06},
{"x":-0.003,"y":-0.125,"a":-2,"s":2},{"x":-0.004,"y":-0.148,"a":-1,"s":1.71},{"x":-0.005,"y":-0.172,"a":-1,"s":1.53},{"x":-0.005,"y":-0.195,"a":-1,"s":1.41},{"x":-0.006,"y":-0.218,"a":-1,"s":1.33},{"x":-0.006,"y":-0.241,"a":-1,"s":1.27},{"x":-0.007,"y":-0.265,"a":-1,"s":1.22},{"x":-0.008,"y":-0.288,"a":0,"s":1.19},{"x":-0.008,"y":-0.311,"a":0,"s":1.16},{"x":-0.009,"y":-0.335,"a":0,"s":1.14},{"x":-0.01,"y":-0.358,"a":0,"s":1.12},{"x":-0.01,"y":-0.381,"a":0,"s":1.11},{"x":-0.011,"y":-0.405,"a":0,"s":1.1},{"x":-0.011,"y":-0.428,"a":0,"s":1.09},{"x":-0.012,"y":-0.451,"a":0,"s":1.08},{"x":-0.013,"y":-0.474,"a":0,"s":1.07},{"x":-0.013,"y":-0.498,"a":0,"s":1.06},
{"x":-0.017,"y":0.124,"a":8,"s":1.98},{"x":-0.02,"y":0.147,"a":6,"s":1.7},{"x":-0.023,"y":0.17,"a":5,"s":1.52},{"x":-0.026,"y":0.193,"a":4,"s":1.4},{"x":-0.029,"y":0.216,"a":4,"s":1.32},{"x":-0.032,"y":0.239,"a":3,"s":1.26},{"x":-0.035,"y":0.263,"a":3,"s":1.22},{"x":-0.038,"y":0.286,"a":2,"s":1.18},{"x":-0.041,"y":0.309,"a":2,"s":1.16},{"x":-0.044,"y":0.332,"a":2,"s":1.14},{"x":-0.048,"y":0.355,"a":2,"s":1.12},{"x":-0.051,"y":0.378,"a":1,"s":1.1},{"x":-0.054,"y":0.401,"a":1,"s":1.09},{"x":-0.057,"y":0.424,"a":1,"s":1.08},{"x":-0.06,"y":0.447,"a":1,"s":1.07},{"x":-0.063,"y":0.47,"a":1,"s":1.07},{"x":-0.066,"y":0.493,"a":1,"s":1.06},
{"x":-0.017,"y":-0.124,"a":-8,"s":1.98},{"x":-0.02,"y":-0.147,"a":-6,"s":1.7},{"x":-0.023,"y":-0.17,"a":-5,"s":1.52},{"x":-0.026,"y":-0.193,"a":-4,"s":1.4},{"x":-0.029,"y":-0.216,"a":-4,"s":1.32},{"x":-0.032,"y":-0.239,"a":-3,"s":1.26},{"x":-0.035,"y":-0.263,"a":-3,"s":1.22},{"x":-0.038,"y":-0.286,"a":-2,"s":1.18},{"x":-0.041,"y":-0.309,"a":-2,"s":1.16},{"x":-0.044,"y":-0.332,"a":-2,"s":1.14},{"x":-0.048,"y":-0.355,"a":-2,"s":1.12},{"x":-0.051,"y":-0.378,"a":-1,"s":1.1},{"x":-0.054,"y":-0.401,"a":-1,"s":1.09},{"x":-0.057,"y":-0.424,"a":-1,"s":1.08},{"x":-0.06,"y":-0.447,"a":-1,"s":1.07},{"x":-0.063,"y":-0.47,"a":-1,"s":1.07},{"x":-0.066,"y":-0.493,"a":-1,"s":1.06},
{"x":-0.03,"y":0.121,"a":14,"s":1.94},{"x":-0.035,"y":0.144,"a":11,"s":1.66},{"x":-0.041,"y":0.167,"a":9,"s":1.49},{"x":-0.046,"y":0.189,"a":8,"s":1.38},{"x":-0.052,"y":0.212,"a":7,"s":1.3},{"x":-0.057,"y":0.235,"a":6,"s":1.24},{"x":-0.063,"y":0.257,"a":5,"s":1.2},{"x":-0.068,"y":0.28,"a":4,"s":1.17},{"x":-0.074,"y":0.303,"a":4,"s":1.15},{"x":-0.079,"y":0.325,"a":3,"s":1.13},{"x":-0.085,"y":0.348,"a":3,"s":1.11},{"x":-0.091,"y":0.37,"a":3,"s":1.1},{"x":-0.096,"y":0.393,"a":2,"s":1.09},{"x":-0.102,"y":0.416,"a":2,"s":1.08},{"x":-0.107,"y":0.438,"a":2,"s":1.07},{"x":-0.113,"y":0.461,"a":2,"s":1.06},{"x":-0.118,"y":0.484,"a":2,"s":1.06},
{"x":-0.03,"y":-0.121,"a":-14,"s":1.94},{"x":-0.035,"y":-0.144,"a":-11,"s":1.66},{"x":-0.041,"y":-0.167,"a":-9,"s":1.49},{"x":-0.046,"y":-0.189,"a":-8,"s":1.38},{"x":-0.052,"y":-0.212,"a":-7,"s":1.3},{"x":-0.057,"y":-0.235,"a":-6,"s":1.24},{"x":-0.063,"y":-0.257,"a":-5,"s":1.2},{"x":-0.068,"y":-0.28,"a":-4,"s":1.17},{"x":-0.074,"y":-0.303,"a":-4,"s":1.15},{"x":-0.079,"y":-0.325,"a":-3,"s":1.13},{"x":-0.085,"y":-0.348,"a":-3,"s":1.11},{"x":-0.091,"y":-0.37,"a":-3,"s":1.1},{"x":-0.096,"y":-0.393,"a":-2,"s":1.09},{"x":-0.102,"y":-0.416,"a":-2,"s":1.08},{"x":-0.107,"y":-0.438,"a":-2,"s":1.07},{"x":-0.113,"y":-0.461,"a":-2,"s":1.06},{"x":-0.118,"y":-0.484,"a":-2,"s":1.06},
{"x":-0.042,"y":0.118,"a":20,"s":1.88},{"x":-0.05,"y":0.14,"a":16,"s":1.61},{"x":-0.058,"y":0.161,"a":14,"s":1.45},{"x":-0.066,"y":0.183,"a":11,"s":1.34},{"x":-0.074,"y":0.205,"a":10,"s":1.27},{"x":-0.082,"y":0.227,"a":8,"s":1.22},{"x":-0.09,"y":0.249,"a":7,"s":1.18},{"x":-0.098,"y":0.271,"a":6,"s":1.15},{"x":-0.106,"y":0.293,"a":5,"s":1.13},{"x":-0.114,"y":0.315,"a":5,"s":1.11},{"x":-0.122,"y":0.337,"a":4,"s":1.1},{"x":-0.129,"y":0.359,"a":4,"s":1.09},{"x":-0.137,"y":0.381,"a":3,"s":1.08},{"x":-0.145,"y":0.403,"a":3,"s":1.07},{"x":-0.153,"y":0.424,"a":3,"s":1.06},{"x":-0.161,"y":0.446,"a":2,"s":1.05},{"x":-0.169,"y":0.468,"a":2,"s":1.05},{"x":-0.177,"y":0.49,"a":2,"s":1.05},
{"x":-0.042,"y":-0.118,"a":-20,"s":1.88},{"x":-0.05,"y":-0.14,"a":-16,"s":1.61},{"x":-0.058,"y":-0.161,"a":-14,"s":1.45},{"x":-0.066,"y":-0.183,"a":-11,"s":1.34},{"x":-0.074,"y":-0.205,"a":-10,"s":1.27},{"x":-0.082,"y":-0.227,"a":-8,"s":1.22},{"x":-0.09,"y":-0.249,"a":-7,"s":1.18},{"x":-0.098,"y":-0.271,"a":-6,"s":1.15},{"x":-0.106,"y":-0.293,"a":-5,"s":1.13},{"x":-0.114,"y":-0.315,"a":-5,"s":1.11},{"x":-0.122,"y":-0.337,"a":-4,"s":1.1},{"x":-0.129,"y":-0.359,"a":-4,"s":1.09},{"x":-0.137,"y":-0.381,"a":-3,"s":1.08},{"x":-0.145,"y":-0.403,"a":-3,"s":1.07},{"x":-0.153,"y":-0.424,"a":-3,"s":1.06},{"x":-0.161,"y":-0.446,"a":-2,"s":1.05},{"x":-0.169,"y":-0.468,"a":-2,"s":1.05},{"x":-0.177,"y":-0.49,"a":-2,"s":1.05},
{"x":-0.055,"y":0.112,"a":26,"s":1.8},{"x":-0.065,"y":0.133,"a":21,"s":1.54},{"x":-0.075,"y":0.154,"a":18,"s":1.39},{"x":-0.085,"y":0.175,"a":15,"s":1.3},{"x":-0.095,"y":0.196,"a":12,"s":1.23},{"x":-0.106,"y":0.217,"a":10,"s":1.18},{"x":-0.116,"y":0.238,"a":9,"s":1.15},{"x":-0.126,"y":0.259,"a":8,"s":1.13},{"x":-0.136,"y":0.28,"a":7,"s":1.11},{"x":-0.146,"y":0.301,"a":6,"s":1.09},{"x":-0.157,"y":0.322,"a":5,"s":1.08},{"x":-0.167,"y":0.343,"a":5,"s":1.07},{"x":-0.177,"y":0.364,"a":4,"s":1.06},{"x":-0.187,"y":0.385,"a":4,"s":1.06},{"x":-0.197,"y":0.406,"a":3,"s":1.05},{"x":-0.208,"y":0.427,"a":3,"s":1.04},{"x":-0.218,"y":0.448,"a":3,"s":1.04},{"x":-0.228,"y":0.469,"a":3,"s":1.04},{"x":-0.238,"y":0.49,"a":2,"s":1.03},
{"x":-0.055,"y":-0.112,"a":-26,"s":1.8},{"x":-0.065,"y":-0.133,"a":-21,"s":1.54},{"x":-0.075,"y":-0.154,"a":-18,"s":1.39},{"x":-0.085,"y":-0.175,"a":-15,"s":1.3},{"x":-0.095,"y":-0.196,"a":-12,"s":1.23},{"x":-0.106,"y":-0.217,"a":-10,"s":1.18},{"x":-0.116,"y":-0.238,"a":-9,"s":1.15},{"x":-0.126,"y":-0.259,"a":-8,"s":1.13},{"x":-0.136,"y":-0.28,"a":-7,"s":1.11},{"x":-0.146,"y":-0.301,"a":-6,"s":1.09},{"x":-0.157,"y":-0.322,"a":-5,"s":1.08},{"x":-0.167,"y":-0.343,"a":-5,"s":1.07},{"x":-0.177,"y":-0.364,"a":-4,"s":1.06},{"x":-0.187,"y":-0.385,"a":-4,"s":1.06},{"x":-0.197,"y":-0.406,"a":-3,"s":1.05},{"x":-0.208,"y":-0.427,"a":-3,"s":1.04},{"x":-0.218,"y":-0.448,"a":-3,"s":1.04},{"x":-0.228,"y":-0.469,"a":-3,"s":1.04},{"x":-0.238,"y":-0.49,"a":-2,"s":1.03},
{"x":-0.066,"y":0.106,"a":32,"s":1.7},{"x":-0.079,"y":0.126,"a":26,"s":1.46},{"x":-0.091,"y":0.146,"a":21,"s":1.32},{"x":-0.103,"y":0.165,"a":17,"s":1.24},{"x":-0.116,"y":0.185,"a":15,"s":1.18},{"x":-0.128,"y":0.205,"a":12,"s":1.14},{"x":-0.141,"y":0.225,"a":10,"s":1.12},{"x":-0.153,"y":0.244,"a":9,"s":1.1},{"x":-0.165,"y":0.264,"a":8,"s":1.08},{"x":-0.178,"y":0.284,"a":7,"s":1.07},{"x":-0.19,"y":0.304,"a":6,"s":1.06},{"x":-0.202,"y":0.323,"a":5,"s":1.05},{"x":-0.215,"y":0.343,"a":5,"s":1.05},{"x":-0.227,"y":0.363,"a":4,"s":1.04},{"x":-0.239,"y":0.383,"a":4,"s":1.04},{"x":-0.252,"y":0.402,"a":3,"s":1.03},{"x":-0.264,"y":0.422,"a":3,"s":1.03},{"x":-0.276,"y":0.442,"a":3,"s":1.03},{"x":-0.289,"y":0.462,"a":3,"s":1.02},{"x":-0.301,"y":0.481,"a":2,"s":1.02},
{"x":-0.066,"y":-0.106,"a":-32,"s":1.7},{"x":-0.079,"y":-0.126,"a":-26,"s":1.46},{"x":-0.091,"y":-0.146,"a":-21,"s":1.32},{"x":-0.103,"y":-0.165,"a":-17,"s":1.24},{"x":-0.116,"y":-0.185,"a":-15,"s":1.18},{"x":-0.128,"y":-0.205,"a":-12,"s":1.14},{"x":-0.141,"y":-0.225,"a":-10,"s":1.12},{"x":-0.153,"y":-0.244,"a":-9,"s":1.1},{"x":-0.165,"y":-0.264,"a":-8,"s":1.08},{"x":-0.178,"y":-0.284,"a":-7,"s":1.07},{"x":-0.19,"y":-0.304,"a":-6,"s":1.06},{"x":-0.202,"y":-0.323,"a":-5,"s":1.05},{"x":-0.215,"y":-0.343,"a":-5,"s":1.05},{"x":-0.227,"y":-0.363,"a":-4,"s":1.04},{"x":-0.239,"y":-0.383,"a":-4,"s":1.04},{"x":-0.252,"y":-0.402,"a":-3,"s":1.03},{"x":-0.264,"y":-0.422,"a":-3,"s":1.03},{"x":-0.276,"y":-0.442,"a":-3,"s":1.03},{"x":-0.289,"y":-0.462,"a":-3,"s":1.02},{"x":-0.301,"y":-0.481,"a":-2,"s":1.02},
{"x":-0.077,"y":0.098,"a":38,"s":1.57},{"x":-0.092,"y":0.117,"a":31,"s":1.36},{"x":-0.106,"y":0.135,"a":25,"s":1.24},{"x":-0.12,"y":0.153,"a":20,"s":1.17},{"x":-0.135,"y":0.172,"a":17,"s":1.12},{"x":-0.149,"y":0.19,"a":14,"s":1.1},{"x":-0.164,"y":0.208,"a":12,"s":1.08},{"x":-0.178,"y":0.227,"a":10,"s":1.06},{"x":-0.192,"y":0.245,"a":9,"s":1.05},{"x":-0.207,"y":0.263,"a":8,"s":1.04},{"x":-0.221,"y":0.282,"a":7,"s":1.04},{"x":-0.235,"y":0.3,"a":6,"s":1.03},{"x":-0.25,"y":0.318,"a":5,"s":1.03},{"x":-0.264,"y":0.337,"a":5,"s":1.02},{"x":-0.279,"y":0.355,"a":4,"s":1.02},{"x":-0.293,"y":0.373,"a":4,"s":1.02},{"x":-0.307,"y":0.392,"a":3,"s":1.02},{"x":-0.322,"y":0.41,"a":3,"s":1.02},{"x":-0.336,"y":0.428,"a":3,"s":1.01},{"x":-0.351,"y":0.447,"a":3,"s":1.01},{"x":-0.365,"y":0.465,"a":2,"s":1.01},{"x":-0.379,"y":0.483,"a":2,"s":1.01},
{"x":-0.077,"y":-0.098,"a":-38,"s":1.57},{"x":-0.092,"y":-0.117,"a":-31,"s":1.36},{"x":-0.106,"y":-0.135,"a":-25,"s":1.24},{"x":-0.12,"y":-0.153,"a":-20,"s":1.17},{"x":-0.135,"y":-0.172,"a":-17,"s":1.12},{"x":-0.149,"y":-0.19,"a":-14,"s":1.1},{"x":-0.164,"y":-0.208,"a":-12,"s":1.08},{"x":-0.178,"y":-0.227,"a":-10,"s":1.06},{"x":-0.192,"y":-0.245,"a":-9,"s":1.05},{"x":-0.207,"y":-0.263,"a":-8,"s":1.04},{"x":-0.221,"y":-0.282,"a":-7,"s":1.04},{"x":-0.235,"y":-0.3,"a":-6,"s":1.03},{"x":-0.25,"y":-0.318,"a":-5,"s":1.03},{"x":-0.264,"y":-0.337,"a":-5,"s":1.02},{"x":-0.279,"y":-0.355,"a":-4,"s":1.02},{"x":-0.293,"y":-0.373,"a":-4,"s":1.02},{"x":-0.307,"y":-0.392,"a":-3,"s":1.02},{"x":-0.322,"y":-0.41,"a":-3,"s":1.02},{"x":-0.336,"y":-0.428,"a":-3,"s":1.01},{"x":-0.351,"y":-0.447,"a":-3,"s":1.01},{"x":-0.365,"y":-0.465,"a":-2,"s":1.01},{"x":-0.379,"y":-0.483,"a":-2,"s":1.01},
{"x":-0.087,"y":0.09,"a":44,"s":1.43},{"x":-0.104,"y":0.106,"a":35,"s":1.24},{"x":-0.12,"y":0.123,"a":28,"s":1.14},{"x":-0.136,"y":0.14,"a":22,"s":1.09},{"x":-0.152,"y":0.156,"a":18,"s":1.06},{"x":-0.169,"y":0.173,"a":15,"s":1.04},{"x":-0.185,"y":0.19,"a":13,"s":1.03},{"x":-0.201,"y":0.206,"a":11,"s":1.02},{"x":-0.217,"y":0.223,"a":9,"s":1.02},{"x":-0.234,"y":0.24,"a":8,"s":1.01},{"x":-0.25,"y":0.257,"a":7,"s":1.01},{"x":-0.266,"y":0.273,"a":6,"s":1.01},{"x":-0.282,"y":0.29,"a":5,"s":1.01},{"x":-0.299,"y":0.307,"a":5,"s":1.01},{"x":-0.315,"y":0.323,"a":4,"s":1},{"x":-0.331,"y":0.34,"a":4,"s":1},{"x":-0.347,"y":0.357,"a":4,"s":1},{"x":-0.364,"y":0.373,"a":3,"s":1},{"x":-0.38,"y":0.39,"a":3,"s":1},{"x":-0.396,"y":0.407,"a":3,"s":1},{"x":-0.412,"y":0.423,"a":3,"s":1},{"x":-0.429,"y":0.44,"a":2,"s":1},{"x":-0.445,"y":0.457,"a":2,"s":1},{"x":-0.461,"y":0.474,"a":2,"s":1},{"x":-0.477,"y":0.49,"a":2,"s":1},
{"x":-0.087,"y":-0.09,"a":-44,"s":1.43},{"x":-0.104,"y":-0.106,"a":-35,"s":1.24},{"x":-0.12,"y":-0.123,"a":-28,"s":1.14},{"x":-0.136,"y":-0.14,"a":-22,"s":1.09},{"x":-0.152,"y":-0.156,"a":-18,"s":1.06},{"x":-0.169,"y":-0.173,"a":-15,"s":1.04},{"x":-0.185,"y":-0.19,"a":-13,"s":1.03},{"x":-0.201,"y":-0.206,"a":-11,"s":1.02},{"x":-0.217,"y":-0.223,"a":-9,"s":1.02},{"x":-0.234,"y":-0.24,"a":-8,"s":1.01},{"x":-0.25,"y":-0.257,"a":-7,"s":1.01},{"x":-0.266,"y":-0.273,"a":-6,"s":1.01},{"x":-0.282,"y":-0.29,"a":-5,"s":1.01},{"x":-0.299,"y":-0.307,"a":-5,"s":1.01},{"x":-0.315,"y":-0.323,"a":-4,"s":1},{"x":-0.331,"y":-0.34,"a":-4,"s":1},{"x":-0.347,"y":-0.357,"a":-4,"s":1},{"x":-0.364,"y":-0.373,"a":-3,"s":1},{"x":-0.38,"y":-0.39,"a":-3,"s":1},{"x":-0.396,"y":-0.407,"a":-3,"s":1},{"x":-0.412,"y":-0.423,"a":-3,"s":1},{"x":-0.429,"y":-0.44,"a":-2,"s":1},{"x":-0.445,"y":-0.457,"a":-2,"s":1},{"x":-0.461,"y":-0.474,"a":-2,"s":1},{"x":-0.477,"y":-0.49,"a":-2,"s":1},
{"x":-0.096,"y":0.08,"a":50,"s":1.28},{"x":-0.114,"y":0.095,"a":39,"s":1.11},{"x":-0.132,"y":0.11,"a":30,"s":1.04},{"x":-0.15,"y":0.124,"a":24,"s":1.01},{"x":-0.168,"y":0.139,"a":19,"s":0.99},{"x":-0.186,"y":0.154,"a":16,"s":0.99},{"x":-0.204,"y":0.169,"a":13,"s":0.98},{"x":-0.222,"y":0.184,"a":11,"s":0.98},{"x":-0.24,"y":0.199,"a":9,"s":0.98},{"x":-0.258,"y":0.214,"a":8,"s":0.98},{"x":-0.276,"y":0.229,"a":7,"s":0.99},{"x":-0.294,"y":0.243,"a":6,"s":0.99},{"x":-0.312,"y":0.258,"a":5,"s":0.99},{"x":-0.329,"y":0.273,"a":5,"s":0.99},{"x":-0.347,"y":0.288,"a":4,"s":0.99},{"x":-0.365,"y":0.303,"a":4,"s":0.99},{"x":-0.383,"y":0.318,"a":4,"s":0.99},{"x":-0.401,"y":0.333,"a":3,"s":0.99},{"x":-0.419,"y":0.348,"a":3,"s":0.99},{"x":-0.437,"y":0.362,"a":3,"s":0.99},{"x":-0.455,"y":0.377,"a":3,"s":0.99},{"x":-0.473,"y":0.392,"a":2,"s":0.99},{"x":-0.491,"y":0.407,"a":2,"s":0.99},
{"x":-0.096,"y":-0.08,"a":-50,"s":1.28},{"x":-0.114,"y":-0.095,"a":-39,"s":1.11},{"x":-0.132,"y":-0.11,"a":-30,"s":1.04},{"x":-0.15,"y":-0.124,"a":-24,"s":1.01},{"x":-0.168,"y":-0.139,"a":-19,"s":0.99},{"x":-0.186,"y":-0.154,"a":-16,"s":0.99},{"x":-0.204,"y":-0.169,"a":-13,"s":0.98},{"x":-0.222,"y":-0.184,"a":-11,"s":0.98},{"x":-0.24,"y":-0.199,"a":-9,"s":0.98},{"x":-0.258,"y":-0.214,"a":-8,"s":0.98},{"x":-0.276,"y":-0.229,"a":-7,"s":0.99},{"x":-0.294,"y":-0.243,"a":-6,"s":0.99},{"x":-0.312,"y":-0.258,"a":-5,"s":0.99},{"x":-0.329,"y":-0.273,"a":-5,"s":0.99},{"x":-0.347,"y":-0.288,"a":-4,"s":0.99},{"x":-0.365,"y":-0.303,"a":-4,"s":0.99},{"x":-0.383,"y":-0.318,"a":-4,"s":0.99},{"x":-0.401,"y":-0.333,"a":-3,"s":0.99},{"x":-0.419,"y":-0.348,"a":-3,"s":0.99},{"x":-0.437,"y":-0.362,"a":-3,"s":0.99},{"x":-0.455,"y":-0.377,"a":-3,"s":0.99},{"x":-0.473,"y":-0.392,"a":-2,"s":0.99},{"x":-0.491,"y":-0.407,"a":-2,"s":0.99},
{"x":-0.104,"y":0.069,"a":56,"s":1.11},{"x":-0.124,"y":0.082,"a":42,"s":0.98},{"x":-0.143,"y":0.095,"a":32,"s":0.93},{"x":-0.162,"y":0.108,"a":24,"s":0.92},{"x":-0.182,"y":0.121,"a":19,"s":0.92},{"x":-0.201,"y":0.134,"a":15,"s":0.93},{"x":-0.221,"y":0.146,"a":13,"s":0.94},{"x":-0.24,"y":0.159,"a":11,"s":0.94},{"x":-0.26,"y":0.172,"a":9,"s":0.95},{"x":-0.279,"y":0.185,"a":8,"s":0.95},{"x":-0.298,"y":0.198,"a":7,"s":0.96},{"x":-0.318,"y":0.211,"a":6,"s":0.96},{"x":-0.337,"y":0.224,"a":5,"s":0.97},{"x":-0.357,"y":0.237,"a":5,"s":0.97},{"x":-0.376,"y":0.249,"a":4,"s":0.97},{"x":-0.395,"y":0.262,"a":4,"s":0.98},{"x":-0.415,"y":0.275,"a":3,"s":0.98},{"x":-0.434,"y":0.288,"a":3,"s":0.98},{"x":-0.454,"y":0.301,"a":3,"s":0.98},{"x":-0.473,"y":0.314,"a":3,"s":0.98},{"x":-0.493,"y":0.327,"a":2,"s":0.98},
{"x":-0.104,"y":-0.069,"a":-56,"s":1.11},{"x":-0.124,"y":-0.082,"a":-42,"s":0.98},{"x":-0.143,"y":-0.095,"a":-32,"s":0.93},{"x":-0.162,"y":-0.108,"a":-24,"s":0.92},{"x":-0.182,"y":-0.121,"a":-19,"s":0.92},{"x":-0.201,"y":-0.134,"a":-15,"s":0.93},{"x":-0.221,"y":-0.146,"a":-13,"s":0.94},{"x":-0.24,"y":-0.159,"a":-11,"s":0.94},{"x":-0.26,"y":-0.172,"a":-9,"s":0.95},{"x":-0.279,"y":-0.185,"a":-8,"s":0.95},{"x":-0.298,"y":-0.198,"a":-7,"s":0.96},{"x":-0.318,"y":-0.211,"a":-6,"s":0.96},{"x":-0.337,"y":-0.224,"a":-5,"s":0.97},{"x":-0.357,"y":-0.237,"a":-5,"s":0.97},{"x":-0.376,"y":-0.249,"a":-4,"s":0.97},{"x":-0.395,"y":-0.262,"a":-4,"s":0.98},{"x":-0.415,"y":-0.275,"a":-3,"s":0.98},{"x":-0.434,"y":-0.288,"a":-3,"s":0.98},{"x":-0.454,"y":-0.301,"a":-3,"s":0.98},{"x":-0.473,"y":-0.314,"a":-3,"s":0.98},{"x":-0.493,"y":-0.327,"a":-2,"s":0.98},
{"x":-0.111,"y":0.058,"a":63,"s":0.92},{"x":-0.132,"y":0.068,"a":45,"s":0.83},{"x":-0.152,"y":0.079,"a":32,"s":0.82},{"x":-0.173,"y":0.09,"a":24,"s":0.83},{"x":-0.194,"y":0.101,"a":18,"s":0.86},{"x":-0.214,"y":0.111,"a":15,"s":0.87},{"x":-0.235,"y":0.122,"a":12,"s":0.89},{"x":-0.256,"y":0.133,"a":10,"s":0.91},{"x":-0.276,"y":0.144,"a":8,"s":0.92},{"x":-0.297,"y":0.154,"a":7,"s":0.93},{"x":-0.318,"y":0.165,"a":6,"s":0.94},{"x":-0.338,"y":0.176,"a":5,"s":0.94},{"x":-0.359,"y":0.187,"a":5,"s":0.95},{"x":-0.38,"y":0.197,"a":4,"s":0.95},{"x":-0.4,"y":0.208,"a":4,"s":0.96},{"x":-0.421,"y":0.219,"a":3,"s":0.96},{"x":-0.442,"y":0.23,"a":3,"s":0.97},{"x":-0.462,"y":0.24,"a":3,"s":0.97},{"x":-0.483,"y":0.251,"a":3,"s":0.97},
{"x":-0.111,"y":-0.058,"a":-63,"s":0.92},{"x":-0.132,"y":-0.068,"a":-45,"s":0.83},{"x":-0.152,"y":-0.079,"a":-32,"s":0.82},{"x":-0.173,"y":-0.09,"a":-24,"s":0.83},{"x":-0.194,"y":-0.101,"a":-18,"s":0.86},{"x":-0.214,"y":-0.111,"a":-15,"s":0.87},{"x":-0.235,"y":-0.122,"a":-12,"s":0.89},{"x":-0.256,"y":-0.133,"a":-10,"s":0.91},{"x":-0.276,"y":-0.144,"a":-8,"s":0.92},{"x":-0.297,"y":-0.154,"a":-7,"s":0.93},{"x":-0.318,"y":-0.165,"a":-6,"s":0.94},{"x":-0.338,"y":-0.176,"a":-5,"s":0.94},{"x":-0.359,"y":-0.187,"a":-5,"s":0.95},{"x":-0.38,"y":-0.197,"a":-4,"s":0.95},{"x":-0.4,"y":-0.208,"a":-4,"s":0.96},{"x":-0.421,"y":-0.219,"a":-3,"s":0.96},{"x":-0.442,"y":-0.23,"a":-3,"s":0.97},{"x":-0.462,"y":-0.24,"a":-3,"s":0.97},{"x":-0.483,"y":-0.251,"a":-3,"s":0.97},
{"x":-0.116,"y":0.046,"a":69,"s":0.73},{"x":-0.138,"y":0.054,"a":45,"s":0.68},{"x":-0.16,"y":0.063,"a":31,"s":0.71},{"x":-0.182,"y":0.071,"a":22,"s":0.75},{"x":-0.203,"y":0.08,"a":16,"s":0.79},{"x":-0.225,"y":0.088,"a":13,"s":0.82},{"x":-0.247,"y":0.096,"a":10,"s":0.85},{"x":-0.268,"y":0.105,"a":8,"s":0.87},{"x":-0.29,"y":0.113,"a":7,"s":0.89},{"x":-0.312,"y":0.122,"a":6,"s":0.9},{"x":-0.333,"y":0.13,"a":5,"s":0.91},{"x":-0.355,"y":0.139,"a":5,"s":0.92},{"x":-0.377,"y":0.147,"a":4,"s":0.93},{"x":-0.399,"y":0.156,"a":4,"s":0.94},{"x":-0.42,"y":0.164,"a":3,"s":0.95},{"x":-0.442,"y":0.173,"a":3,"s":0.95},{"x":-0.464,"y":0.181,"a":3,"s":0.96},{"x":-0.485,"y":0.19,"a":2,"s":0.96},
{"x":-0.116,"y":-0.046,"a":-69,"s":0.73},{"x":-0.138,"y":-0.054,"a":-45,"s":0.68},{"x":-0.16,"y":-0.063,"a":-31,"s":0.71},{"x":-0.182,"y":-0.071,"a":-22,"s":0.75},{"x":-0.203,"y":-0.08,"a":-16,"s":0.79},{"x":-0.225,"y":-0.088,"a":-13,"s":0.82},{"x":-0.247,"y":-0.096,"a":-10,"s":0.85},{"x":-0.268,"y":-0.105,"a":-8,"s":0.87},{"x":-0.29,"y":-0.113,"a":-7,"s":0.89},{"x":-0.312,"y":-0.122,"a":-6,"s":0.9},{"x":-0.333,"y":-0.13,"a":-5,"s":0.91},{"x":-0.355,"y":-0.139,"a":-5,"s":0.92},{"x":-0.377,"y":-0.147,"a":-4,"s":0.93},{"x":-0.399,"y":-0.156,"a":-4,"s":0.94},{"x":-0.42,"y":-0.164,"a":-3,"s":0.95},{"x":-0.442,"y":-0.173,"a":-3,"s":0.95},{"x":-0.464,"y":-0.181,"a":-3,"s":0.96},{"x":-0.485,"y":-0.19,"a":-2,"s":0.96},
{"x":-0.121,"y":0.033,"a":75,"s":0.53},{"x":-0.143,"y":0.039,"a":43,"s":0.53},{"x":-0.166,"y":0.045,"a":26,"s":0.61},{"x":-0.188,"y":0.051,"a":18,"s":0.68},{"x":-0.211,"y":0.057,"a":13,"s":0.74},{"x":-0.233,"y":0.064,"a":10,"s":0.78},{"x":-0.256,"y":0.07,"a":8,"s":0.82},{"x":-0.278,"y":0.076,"a":7,"s":0.84},{"x":-0.3,"y":0.082,"a":5,"s":0.87},{"x":-0.323,"y":0.088,"a":5,"s":0.88},{"x":-0.345,"y":0.094,"a":4,"s":0.9},{"x":-0.368,"y":0.1,"a":3,"s":0.91},{"x":-0.39,"y":0.107,"a":3,"s":0.92},{"x":-0.413,"y":0.113,"a":3,"s":0.93},{"x":-0.435,"y":0.119,"a":2,"s":0.94},{"x":-0.458,"y":0.125,"a":2,"s":0.94},{"x":-0.48,"y":0.131,"a":2,"s":0.95},
{"x":-0.121,"y":-0.033,"a":-75,"s":0.53},{"x":-0.143,"y":-0.039,"a":-43,"s":0.53},{"x":-0.166,"y":-0.045,"a":-26,"s":0.61},{"x":-0.188,"y":-0.051,"a":-18,"s":0.68},{"x":-0.211,"y":-0.057,"a":-13,"s":0.74},{"x":-0.233,"y":-0.064,"a":-10,"s":0.78},{"x":-0.256,"y":-0.07,"a":-8,"s":0.82},{"x":-0.278,"y":-0.076,"a":-7,"s":0.84},{"x":-0.3,"y":-0.082,"a":-5,"s":0.87},{"x":-0.323,"y":-0.088,"a":-5,"s":0.88},{"x":-0.345,"y":-0.094,"a":-4,"s":0.9},{"x":-0.368,"y":-0.1,"a":-3,"s":0.91},{"x":-0.39,"y":-0.107,"a":-3,"s":0.92},{"x":-0.413,"y":-0.113,"a":-3,"s":0.93},{"x":-0.435,"y":-0.119,"a":-2,"s":0.94},{"x":-0.458,"y":-0.125,"a":-2,"s":0.94},{"x":-0.48,"y":-0.131,"a":-2,"s":0.95},
{"x":-0.123,"y":0.02,"a":81,"s":0.32},{"x":-0.146,"y":0.024,"a":34,"s":0.4},{"x":-0.169,"y":0.027,"a":19,"s":0.52},{"x":-0.192,"y":0.031,"a":12,"s":0.62},{"x":-0.215,"y":0.035,"a":9,"s":0.7},{"x":-0.238,"y":0.038,"a":6,"s":0.75},{"x":-0.261,"y":0.042,"a":5,"s":0.79},{"x":-0.284,"y":0.046,"a":4,"s":0.82},{"x":-0.307,"y":0.05,"a":3,"s":0.85},{"x":-0.33,"y":0.053,"a":3,"s":0.87},{"x":-0.353,"y":0.057,"a":2,"s":0.89},{"x":-0.376,"y":0.061,"a":2,"s":0.9},{"x":-0.4,"y":0.064,"a":2,"s":0.91},{"x":-0.423,"y":0.068,"a":2,"s":0.92},{"x":-0.446,"y":0.072,"a":1,"s":0.93},{"x":-0.469,"y":0.076,"a":1,"s":0.93},{"x":-0.492,"y":0.079,"a":1,"s":0.94},
{"x":-0.123,"y":-0.02,"a":-81,"s":0.32},{"x":-0.146,"y":-0.024,"a":-34,"s":0.4},{"x":-0.169,"y":-0.027,"a":-19,"s":0.52},{"x":-0.192,"y":-0.031,"a":-12,"s":0.62},{"x":-0.215,"y":-0.035,"a":-9,"s":0.7},{"x":-0.238,"y":-0.038,"a":-6,"s":0.75},{"x":-0.261,"y":-0.042,"a":-5,"s":0.79},{"x":-0.284,"y":-0.046,"a":-4,"s":0.82},{"x":-0.307,"y":-0.05,"a":-3,"s":0.85},{"x":-0.33,"y":-0.053,"a":-3,"s":0.87},{"x":-0.353,"y":-0.057,"a":-2,"s":0.89},{"x":-0.376,"y":-0.061,"a":-2,"s":0.9},{"x":-0.4,"y":-0.064,"a":-2,"s":0.91},{"x":-0.423,"y":-0.068,"a":-2,"s":0.92},{"x":-0.446,"y":-0.072,"a":-1,"s":0.93},{"x":-0.469,"y":-0.076,"a":-1,"s":0.93},{"x":-0.492,"y":-0.079,"a":-1,"s":0.94},
{"x":-0.125,"y":0.007,"a":87,"s":0.11},{"x":-0.148,"y":0.008,"a":14,"s":0.3},{"x":-0.171,"y":0.009,"a":7,"s":0.48},{"x":-0.195,"y":0.01,"a":4,"s":0.59},{"x":-0.218,"y":0.012,"a":3,"s":0.68},{"x":-0.241,"y":0.013,"a":2,"s":0.73},{"x":-0.264,"y":0.014,"a":2,"s":0.78},{"x":-0.288,"y":0.015,"a":1,"s":0.81},{"x":-0.311,"y":0.017,"a":1,"s":0.84},{"x":-0.334,"y":0.018,"a":1,"s":0.86},{"x":-0.358,"y":0.019,"a":1,"s":0.88},{"x":-0.381,"y":0.02,"a":1,"s":0.89},{"x":-0.404,"y":0.022,"a":1,"s":0.91},{"x":-0.427,"y":0.023,"a":1,"s":0.92},{"x":-0.451,"y":0.024,"a":1,"s":0.92},{"x":-0.474,"y":0.025,"a":0,"s":0.93},{"x":-0.497,"y":0.027,"a":0,"s":0.94},
{"x":-0.125,"y":-0.007,"a":-87,"s":0.11},{"x":-0.148,"y":-0.008,"a":-14,"s":0.3},{"x":-0.171,"y":-0.009,"a":-7,"s":0.48},{"x":-0.195,"y":-0.01,"a":-4,"s":0.59},{"x":-0.218,"y":-0.012,"a":-3,"s":0.68},{"x":-0.241,"y":-0.013,"a":-2,"s":0.73},{"x":-0.264,"y":-0.014,"a":-2,"s":0.78},{"x":-0.288,"y":-0.015,"a":-1,"s":0.81},{"x":-0.311,"y":-0.017,"a":-1,"s":0.84},{"x":-0.334,"y":-0.018,"a":-1,"s":0.86},{"x":-0.358,"y":-0.019,"a":-1,"s":0.88},{"x":-0.381,"y":-0.02,"a":-1,"s":0.89},{"x":-0.404,"y":-0.022,"a":-1,"s":0.91},{"x":-0.427,"y":-0.023,"a":-1,"s":0.92},{"x":-0.451,"y":-0.024,"a":-1,"s":0.92},{"x":-0.474,"y":-0.025,"a":0,"s":0.93},{"x":-0.497,"y":-0.027,"a":0,"s":0.94}
]},
"mark":{"type":"point","shape":"M0,0L2,0M1.34,-0.22L2,0L1.34,0.22","filled":false,"stroke":"#0072BD","strokeWidth":0.9,"opacity":1,"clip":true},
"encoding":{
"x":{"field":"x","type":"quantitative","scale":{"domain":[-0.5,0.5],"nice":false,"zero":false},
 "axis":{"orient":"bottom","values":[-0.5,0,0.5],"labelExpr":"'' + datum.value","labelFlush":false,"labelOverlap":false,"title":"X [m]","titleFont":"Liberation Serif","titleFontSize":14.5,"titleFontWeight":"normal","titleColor":"#262626","titlePadding":5.5,"labelFont":"Liberation Serif","labelFontSize":13.5,"labelColor":"#262626","labelPadding":10,"tickSize":-3.5,"tickColor":"#262626","tickWidth":0.6,"domain":false,"grid":false}},
"y":{"field":"y","type":"quantitative","scale":{"domain":[-0.5,0.5],"nice":false,"zero":false},
 "axis":{"orient":"left","values":[-0.5,-0.4,-0.3,-0.2,-0.1,0,0.1,0.2,0.3,0.4,0.5],"labelExpr":"'' + datum.value","labelFlush":false,"labelOverlap":false,"title":"Y [m]","titleFont":"Liberation Serif","titleFontSize":14.5,"titleFontWeight":"normal","titleColor":"#262626","titlePadding":6,"labelFont":"Liberation Serif","labelFontSize":13.5,"labelColor":"#262626","labelPadding":9,"tickSize":-3.5,"tickColor":"#262626","tickWidth":0.6,"domain":false,"grid":false}},
"angle":{"field":"a","type":"quantitative","scale":{"domain":[-90,90],"range":[90,-90]}},
"size":{"field":"s","type":"quantitative","scale":{"type":"pow","exponent":2,"domain":[0,2],"range":[0,333]},"legend":null}
}},
{"data":{"values":[{"x":0,"y":0}]},
"mark":{"type":"point","opacity":0},
"encoding":{
"x":{"field":"x","type":"quantitative","scale":{"domain":[-0.5,0.5],"nice":false,"zero":false},"axis":{"orient":"top","values":[-0.5,0,0.5],"labels":false,"title":null,"tickSize":-3.5,"tickColor":"#262626","tickWidth":0.6,"domain":false,"grid":false}},
"y":{"field":"y","type":"quantitative","scale":{"domain":[-0.5,0.5],"nice":false,"zero":false},"axis":{"orient":"right","values":[-0.5,-0.4,-0.3,-0.2,-0.1,0,0.1,0.2,0.3,0.4,0.5],"labels":false,"title":null,"tickSize":-3.5,"tickColor":"#262626","tickWidth":0.6,"domain":false,"grid":false}}
}}
]
}
